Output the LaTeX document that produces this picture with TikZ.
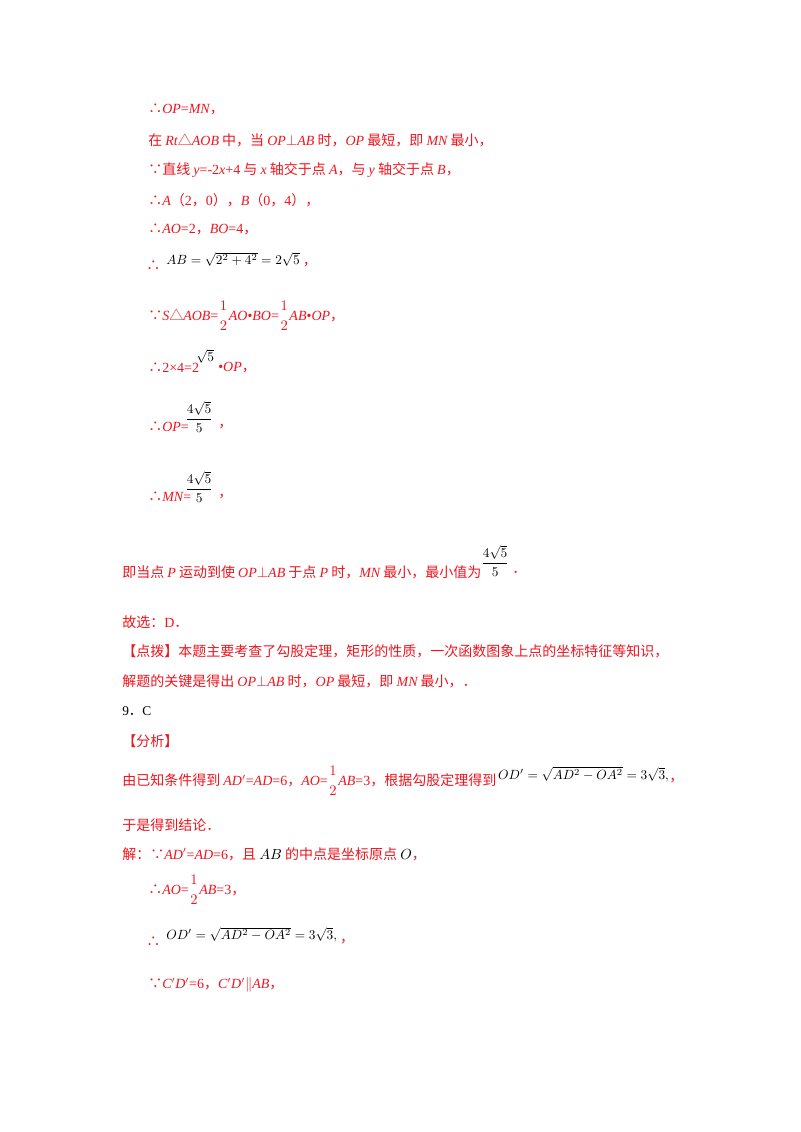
\documentclass[tikz,border=0pt]{standalone}
\usepackage{amsmath,amssymb}
\usepackage{fontspec}
\setmainfont{Noto Sans CJK SC}
\newfontfamily\lat{Liberation Serif}
\newcommand{\I}[1]{{\lat\itshape #1}}
\newcommand{\N}[1]{{\lat #1}}
\definecolor{ink}{RGB}{240,20,30}
\newcommand{\hf}{\genfrac{}{}{0pt}{0}{1}{2}}
\begin{document}
\begin{tikzpicture}[x=0.75pt,y=-0.75pt,
  ln/.style={anchor=west,inner sep=0pt,text=ink,font=\fontsize{10.5pt}{12pt}\selectfont},
  bk/.style={ln,text=black,font=\fontsize{10pt}{12pt}\selectfont}]
\useasboundingbox (0,0) rectangle (800,1132);
\fill[white] (0,0) rectangle (800,1132);
\node[ln] (l1) at (148,109) {∴\I{OP}\N{=}\I{MN}，};
\node[ln] (l2) at (148,140) {在 \I{Rt}△\I{AOB} 中，当 \I{OP}$\perp$\I{AB} 时，\I{OP} 最短，即 \I{MN} 最小，};
\node[ln] (l3) at (148,170) {∵直线 \I{y}\N{=-2}\I{x}\N{+4} 与 \I{x} 轴交于点 \I{A}，与 \I{y} 轴交于点 \I{B}，};
\node[ln] (l4) at (148,200) {∴\I{A}（\N{2}，\N{0}），\I{B}（\N{0}，\N{4}），};
\node[ln] (l5) at (148,229) {∴\I{AO}\N{=2}，\I{BO}\N{=4}，};
\node[ln] (l6a) at (146,266) {∴};
\node[bk] (l6) at (166,259) {$AB=\sqrt{2^2+4^2}=2\sqrt{5}$};
\node[ln,anchor=west] (l6c) at ([xshift=2pt,yshift=-4pt]l6.east) {，};
\node[ln] (l7) at (148,316) {∵\I{S}△\I{AOB}\N{=}$\hf$\I{AO}\N{•}\I{BO}\N{=}$\hf$\I{AB}\N{•}\I{OP}，};
\node[ln] (l8) at (148,368) {∴\N{2×4=2}};
\node[bk] (l8b) at (196,356) {$\sqrt{5}$};
\node[ln] (l8c) at (218,368) {\N{•}\I{OP}，};
\node[ln] (l9) at (148,427) {∴\I{OP}\N{=}};
\node[bk] (l9f) at (185,417) {$\dfrac{4\sqrt5}{5}$};
\node[ln] (l9c) at (218,427) {，};
\node[ln] (l10) at (148,497) {∴\I{MN}\N{=}};
\node[bk] (l10f) at (185,487) {$\dfrac{4\sqrt5}{5}$};
\node[ln] (l10c) at (218,497) {，};
\node[ln] (l11) at (122,572) {即当点 \I{P} 运动到使 \I{OP}$\perp$\I{AB} 于点 \I{P} 时，\I{MN} 最小，最小值为};
\node[bk] (l11f) at (481,561) {$\dfrac{4\sqrt5}{5}$};
\node[ln] (l11c) at (512,572) {．};
\node[ln] (l12) at (122,622) {故选：\N{D}．};
\node[ln] (l13) at (122,651) {【点拨】本题主要考查了勾股定理，矩形的性质，一次函数图象上点的坐标特征等知识，};
\node[ln] (l14) at (122,681) {解题的关键是得出 \I{OP}$\perp$\I{AB} 时，\I{OP} 最短，即 \I{MN} 最小，．};
\node[bk] (l15) at (122,711) {\N{9}．\N{C}};
\node[ln] (l16) at (122,741) {【分析】};
\node[ln] (l17) at (122,781) {由已知条件得到 \I{AD}\N{$'$=}\I{AD}\N{=6}，\I{AO}\N{=}$\hf$\I{AB}\N{=3}，根据勾股定理得到};
\node[bk,anchor=west] (l17f) at ([xshift=1pt,yshift=5pt]l17.east) {$OD'=\sqrt{AD^2-OA^2}=3\sqrt3,$};
\node[ln,anchor=west] (l17c) at ([xshift=0pt,yshift=-5pt]l17f.east) {，};
\node[ln] (l18) at (122,825) {于是得到结论．};
\node[ln] (l19) at (122,854) {解：∵\I{AD}\N{$'$=}\I{AD}\N{=6}，且 \textcolor{black}{$AB$} 的中点是坐标原点 \textcolor{black}{$O$}，};
\node[ln] (l20) at (148,890) {∴\I{AO}\N{=}$\hf$\I{AB}\N{=3}，};
\node[ln] (l21a) at (146,942) {∴};
\node[bk] (l21) at (166,935) {$OD'=\sqrt{AD^2-OA^2}=3\sqrt3,$};
\node[ln,anchor=west] (l21c) at ([xshift=2pt,yshift=-5pt]l21.east) {，};
\node[ln] (l22) at (148,985) {∵\I{C}\N{$'$}\I{D}\N{$'$=6}，\I{C}\N{$'$}\I{D}\N{$'$}$\parallel$\I{AB}，};
\end{tikzpicture}
\end{document}
